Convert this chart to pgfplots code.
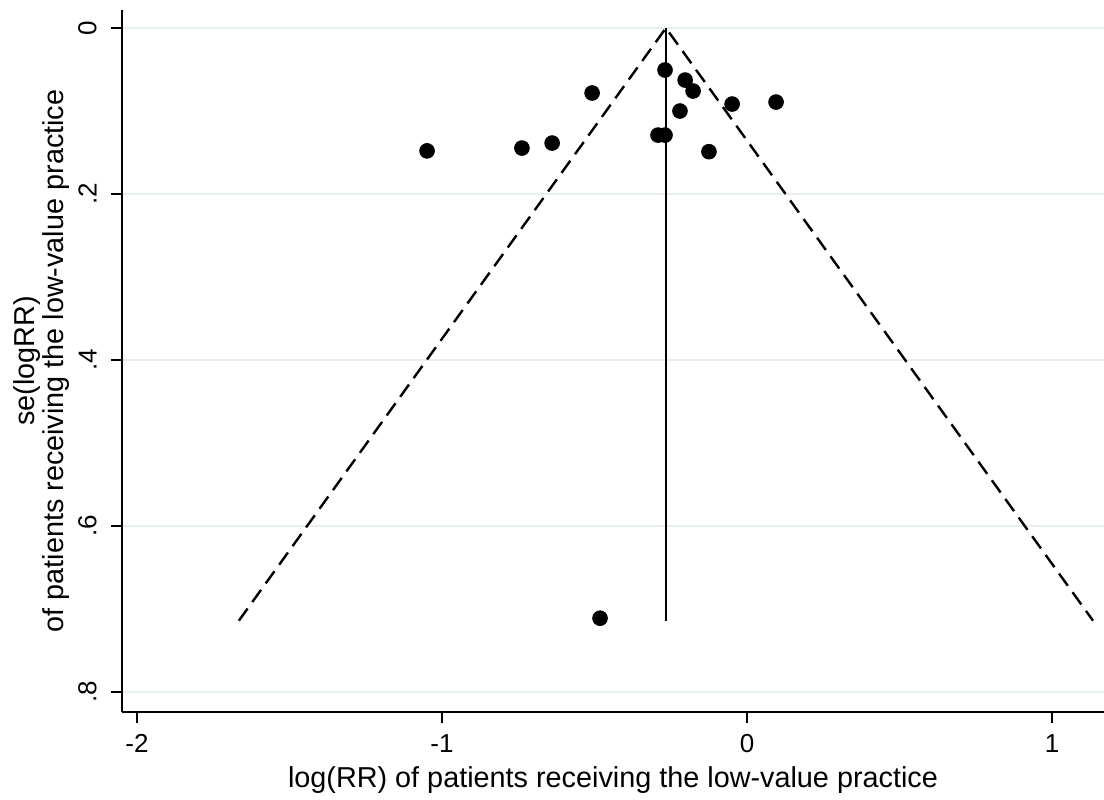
\documentclass[border=0pt]{standalone}
\usepackage{pgfplots}
\pgfplotsset{compat=1.18}
\usepackage{fontspec}
\setmainfont{Liberation Sans}
\definecolor{gridgray}{RGB}{232,239,240}
\begin{document}
\fontsize{14.4bp}{15bp}\selectfont
\begin{tikzpicture}[font=\fontsize{14.4bp}{14.5bp}\selectfont]
\path[use as bounding box] (-61bp,-44bp) rectangle (491bp,356bp);
\begin{axis}[
  scale only axis, width=491bp, height=351bp,
  xmin=-2.049, xmax=1.170, ymin=-0.0217, ymax=0.824,
  y dir=reverse,
  axis x line*=bottom, axis y line*=left,
  axis line style={-, line width=1bp, black},
  xtick={-2,-1,0,1}, xticklabels={-2,-1,0,1},
  ytick={0,0.2,0.4,0.6,0.8}, yticklabels={0,.2,.4,.6,.8},
  tick align=outside, major tick length=5.5bp,
  every tick/.style={black, line width=1bp},
  ymajorgrids, major grid style={gridgray, line width=1.2bp},
  ticklabel style={font=\fontsize{13bp}{13bp}\selectfont},
  yticklabel style={rotate=90, anchor=south, inner sep=3bp, yshift=4bp},
  xticklabel style={inner sep=3bp, yshift=-2.5bp},
  every axis x label/.style={at={(axis description cs:0.5,0)}, anchor=center, yshift=-34bp},
  every axis y label/.style={at={(axis description cs:0,0.5)}, xshift=-40bp, rotate=90, anchor=center, align=center},
  xlabel={log(RR) of patients receiving the low-value practice},
  ylabel={se(logRR)\\of patients receiving the low-value practice},
  clip=false,
]
\addplot[black, line width=1.2bp, dash pattern=on 7.5bp off 4bp] coordinates {(-1.666,0.714) (-0.266,0) (1.134,0.714)};
\addplot[black, line width=1.1bp] coordinates {(-0.266,0) (-0.266,0.714)};
\addplot[only marks, mark=*, mark size=3.7bp, black] coordinates {
(-1.049,0.148)
(-0.738,0.1446)
(-0.639,0.1386)
(-0.508,0.0783)
(-0.269,0.0506)
(-0.203,0.0627)
(-0.177,0.0759)
(-0.220,0.100)
(-0.049,0.0916)
(0.095,0.0892)
(-0.292,0.129)
(-0.269,0.129)
(-0.125,0.149)
(-0.482,0.711)
};
\end{axis}
\end{tikzpicture}
\end{document}
